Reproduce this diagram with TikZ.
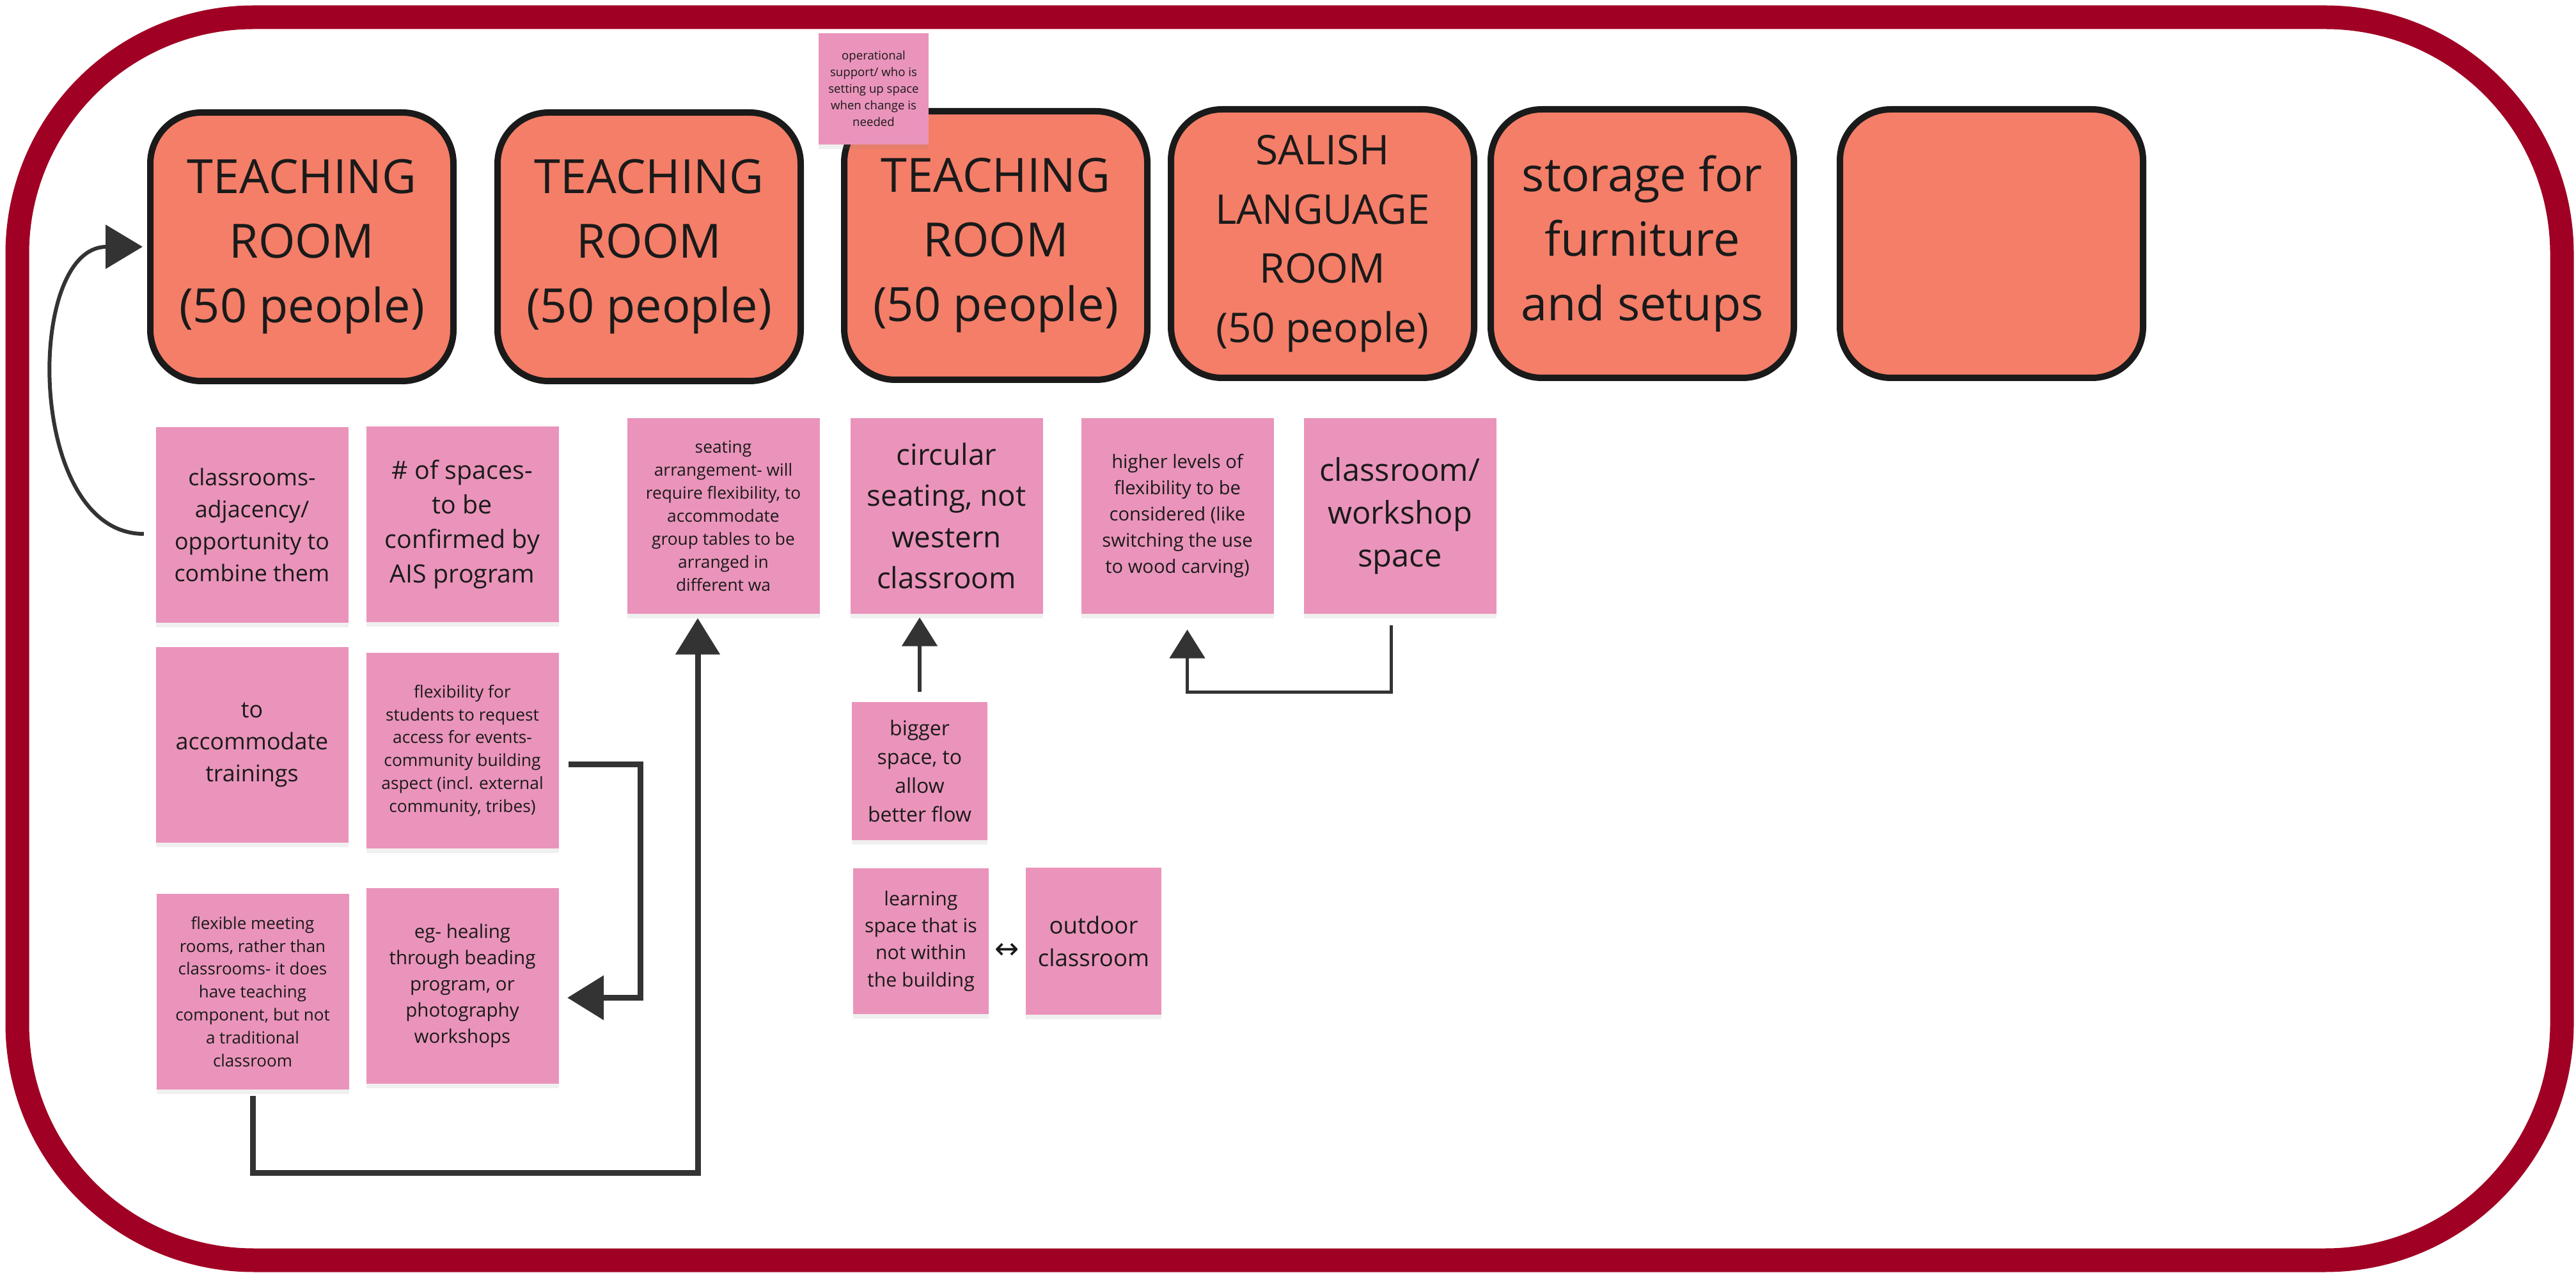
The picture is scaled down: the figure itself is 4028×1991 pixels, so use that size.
\documentclass[tikz,border=0pt]{standalone}
\usepackage{fontspec}
\setmainfont{Open Sans}
\newfontfamily\dejavufont{DejaVu Sans}
\usetikzlibrary{arrows.meta,shadows,calc}

\definecolor{framered}{RGB}{160,0,35}
\definecolor{roomfill}{RGB}{244,126,104}
\definecolor{roomline}{RGB}{26,26,26}
\definecolor{notepink}{RGB}{234,148,187}
\definecolor{linkgray}{RGB}{51,51,51}

\newcommand{\txtsize}[2]{\fontsize{#1}{#2}\selectfont}

\tikzset{
  room/.style={draw=roomline, line width=1mm, fill=roomfill, rounded corners=8mm,
    minimum width=47.4mm, minimum height=42mm, inner sep=0pt, align=center,
    text=roomline, font=\txtsize{21}{28.7}},
  note/.style={fill=notepink, inner sep=0pt, align=center, text=roomline,
    minimum width=30.1mm, minimum height=30.6mm,
    drop shadow={shadow xshift=0mm, shadow yshift=-0.7mm, opacity=0.12}},
  smallnote/.style={note, minimum width=21.2mm, minimum height=22.4mm},
  link/.style={draw=linkgray, line width=0.9mm, -{Triangle[length=5.7mm,width=6.8mm]}},
  thinlink/.style={draw=linkgray, line width=0.55mm, -{Triangle[length=4.5mm,width=5.5mm]}},
  curvy/.style={draw=linkgray, line width=0.6mm, -{Triangle[length=5.8mm,width=6.8mm]}},
}

\begin{document}
\begin{tikzpicture}[x=0.1mm, y=-0.1mm]
    \useasboundingbox (0, 0) rectangle (4028, 1991);
    \draw [framered, line width=3.7mm, rounded corners=37mm] (27, 27) rectangle (4006, 1971);

    % rooms
    \node [room] (tr1) at (472, 386) {TEACHING\\ROOM\\(50 people)};
    \node [room] (tr2) at (1015, 386) {TEACHING\\ROOM\\(50 people)};
    \node [room] (tr3) at (1557, 384) {TEACHING\\ROOM\\(50 people)};
    \node [room, font=\txtsize{18.2}{26.3}] (salish) at (2068, 381) {SALISH\\LANGUAGE\\ROOM\\(50 people)};
    \node [room] (storage) at (2568, 381) {storage for\\furniture\\and setups};
    \node [room] (blank) at (3114, 381) {};

    % notes
    \node [note, minimum width=17.2mm, minimum height=17.4mm, font=\txtsize{5.3}{7.4}] (ops) at (1366, 139)
        {operational\\support/ who is\\setting up space\\when change is\\needed};
    \node [note, font=\txtsize{10.2}{14.2}] (cls) at (394, 821) {classrooms-\\adjacency/\\opportunity to\\combine them};
    \node [note, font=\txtsize{11.2}{15.4}] (nspace) at (723, 820) {\# of spaces-\\to be\\confirmed by\\AIS program};
    \node [note, font=\txtsize{7.5}{10.2}] (seat) at (1131, 807)
        {seating\\arrangement- will\\require flexibility, to\\accommodate\\group tables to be\\arranged in\\different wa};
    \node [note, font=\txtsize{13}{18.3}] (circ) at (1480, 807) {circular\\seating, not\\western\\classroom};
    \node [note, font=\txtsize{8.3}{11.7}] (higher) at (1841, 807)
        {higher levels of\\flexibility to be\\considered (like\\switching the use\\to wood carving)};
    \node [note, font=\txtsize{13.9}{19}] (workshop) at (2189, 807) {classroom/\\workshop\\space};
    \node [note, font=\txtsize{10.2}{14.2}] (train) at (394, 1165) {to\\accommodate\\trainings};
    \node [note, font=\txtsize{7.5}{10.2}] (flexstud) at (723, 1174)
        {flexibility for\\students to request\\access for events-\\community building\\aspect (incl. external\\community, tribes)};
    \node [note, font=\txtsize{7.4}{10.2}] (meet) at (395, 1551)
        {flexible meeting\\rooms, rather than\\classrooms- it does\\have teaching\\component, but not\\a traditional\\classroom};
    \node [note, font=\txtsize{8.4}{11.7}] (heal) at (723, 1542)
        {eg- healing\\through beading\\program, or\\photography\\workshops};
    \node [smallnote, minimum height=21.6mm, font=\txtsize{9.1}{12.8}] (bigger) at (1438, 1206) {bigger\\space, to\\allow\\better flow};
    \node [smallnote, minimum height=22.8mm, font=\txtsize{8.6}{12}] (learn) at (1440, 1472) {learning\\space that is\\not within\\the building};
    \node [smallnote, minimum height=23mm, font=\txtsize{10.4}{14.6}] (outdoor) at (1710, 1472) {outdoor\\classroom};
    \node [text=roomline, font=\dejavufont\txtsize{13}{15}] (both) at (1575, 1487) {↔};

    % links
    \draw [curvy] ([xshift=-1.8mm, yshift=-1.4mm]cls.west) to [out=180, in=180, looseness=1.05] ([xshift=-0.7mm]tr1.west);
    \draw [link] ([xshift=1.5mm, yshift=-2.2mm]flexstud.east) -- ++(11.2mm, 0) |- ([xshift=1.3mm, yshift=-1.85mm]heal.east);
    \draw [link] ([yshift=-0.9mm]meet.south) -- ++(0, -12.1mm) -| ([xshift=-4mm, yshift=-0.6mm]seat.south);
    \draw [thinlink] ([yshift=1.5mm]bigger.north) -- ($(bigger.north |- circ.south) + (0, -0.5mm)$);
    \draw [thinlink] ([xshift=-1.35mm, yshift=-1.7mm]workshop.south) -- ++(0, -10.5mm) -| ([xshift=1.55mm, yshift=-2.4mm]higher.south);

\end{tikzpicture}
\end{document}
